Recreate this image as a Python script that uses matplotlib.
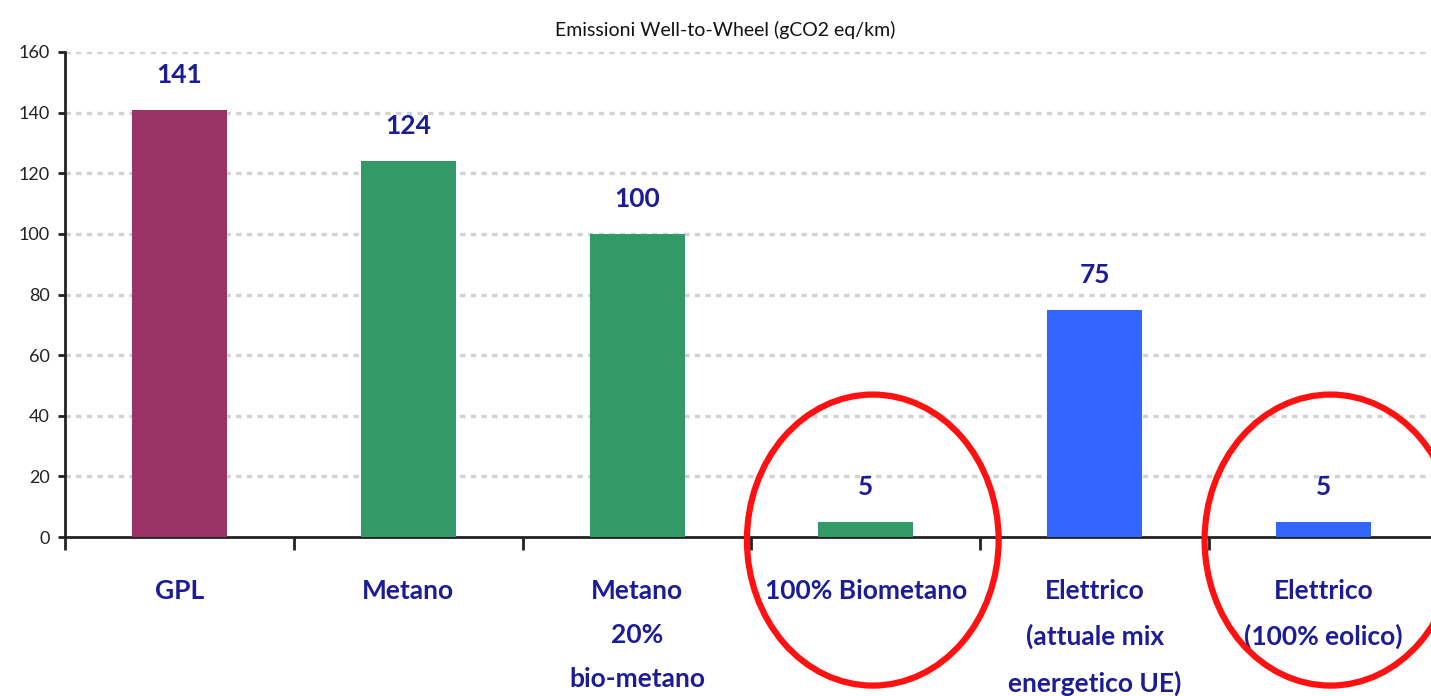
import matplotlib
matplotlib.use("Agg")
import matplotlib.pyplot as plt
from matplotlib.patches import Ellipse
from matplotlib.ticker import FixedLocator

# Well-to-wheel emissions by fuel / powertrain
categories = ["GPL", "Metano", "Metano\n20%\nbio-metano", "100% Biometano",
              "Elettrico\n(attuale mix\nenergetico UE)", "Elettrico\n(100% eolico)"]
emissions = [141, 124, 100, 5, 75, 5]
bar_colors = ["#993366", "#339966", "#339966", "#339966", "#3366FF", "#3366FF"]
highlighted = [3, 5]
title = "Emissioni Well-to-Wheel (gCO2 eq/km)"
y_ticks = [0, 20, 40, 60, 80, 100, 120, 140, 160]

label_color = "#1c1c96"
plt.rcParams["font.family"] = ["Lato", "DejaVu Sans"]

fig = plt.figure(figsize=(14.31, 6.96), dpi=100)
ax = fig.add_axes([0.0454, 0.2284, 0.9595, 0.6969])

x = list(range(len(categories)))
ax.bar(x, emissions, width=0.415, color=bar_colors, zorder=3)

ax.set_xlim(-0.5, len(categories) - 0.5)
ax.set_ylim(0, 160)

# dotted horizontal gridlines
for v in y_ticks[1:]:
    ax.axhline(v, color="#d2d2d2", lw=2.4, linestyle=(0, (1.6, 1.6)), zorder=1)

ax.yaxis.set_major_locator(FixedLocator(y_ticks))
ax.tick_params(axis="y", direction="out", length=5, width=2, color="#222222",
               labelsize=13, labelcolor="#222222", pad=6)

# category boundaries as ticks, category names centred without ticks
ax.set_xticks([i - 0.5 for i in range(len(categories) + 1)], minor=True)
ax.set_xticks(x)
ax.set_xticklabels(categories, fontsize=19, fontweight="bold", color=label_color,
                   linespacing=2.0, va="top")
ax.tick_params(axis="x", which="major", length=0, pad=30)
ax.tick_params(axis="x", which="minor", direction="out", length=9, width=2,
               color="#222222")

for s in ["top", "right"]:
    ax.spines[s].set_visible(False)
for s in ["left", "bottom"]:
    ax.spines[s].set_linewidth(2)
    ax.spines[s].set_color("#222222")

for xi, v in zip(x, emissions):
    ax.annotate(f"{v}", (xi, v), xytext=(0, 25), textcoords="offset points",
                ha="center", va="center", fontsize=19, fontweight="bold",
                color=label_color)

fig.text(0.507, 0.957, title, ha="center", va="center", fontsize=14,
         color="#111111")

# red ellipses around the near-zero options
for i in highlighted:
    ax.add_patch(Ellipse((i + 0.03, -1.0), width=1.1, height=96,
                         fill=False, edgecolor="#ff1111", lw=4.5,
                         clip_on=False, zorder=5))

fig.savefig("out.png", dpi=100)
